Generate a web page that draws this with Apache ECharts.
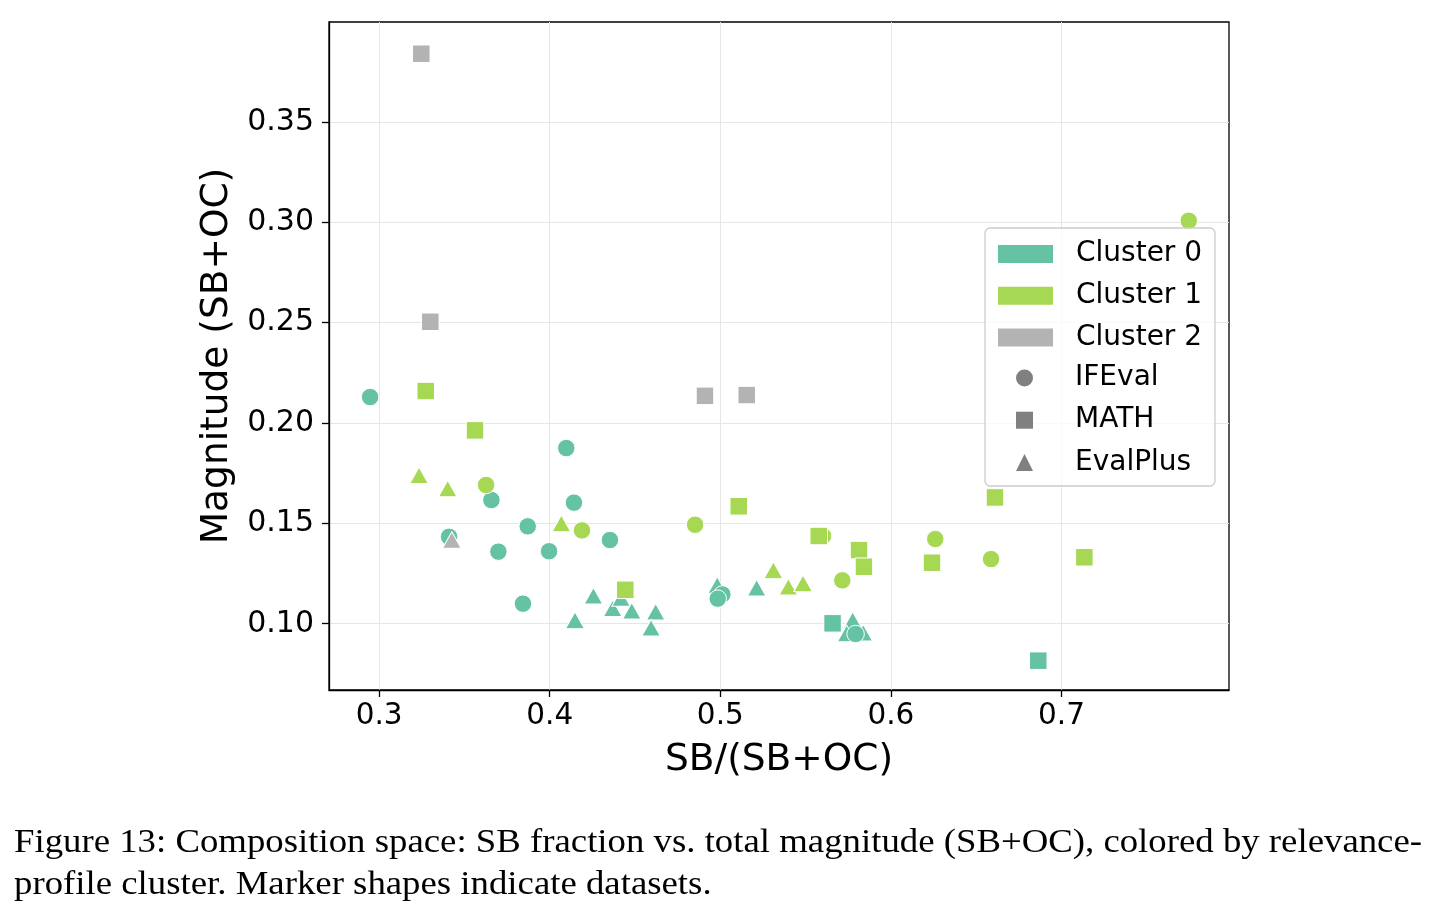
<!DOCTYPE html>
<html>
<head>
<meta charset="utf-8">
<script src="https://cdn.jsdelivr.net/npm/echarts@6/dist/echarts.min.js"></script>
<style>
  html, body { margin: 0; padding: 0; background: #fff; }
  #main { width: 1441px; height: 914px; }
</style>
</head>
<body>
<div id="main"></div>
<script>
// cluster 0 (teal)
var c0IFEval = [[0.2947,0.2129],[0.4097,0.1875],[0.4142,0.1603],[0.3658,0.1616],[0.3410,0.1433],
    [0.3871,0.1485],[0.3699,0.1359],[0.3996,0.1361],[0.4353,0.1417],[0.3843,0.1100],
    [0.5012,0.1146],[0.4985,0.1125],[0.5793,0.0949]];
var c0MATH = [[0.5658,0.1002],[0.6864,0.0816]];
var c0EvalPlus = [[0.4256,0.1139],[0.4148,0.1018],[0.4369,0.1077],[0.4418,0.1128],[0.4481,0.1065],
    [0.4621,0.1060],[0.4594,0.0980],[0.4982,0.1193],[0.5213,0.1179],[0.5776,0.1018],
    [0.5741,0.0952],[0.5838,0.0955]];
// cluster 1 (green)
var c1IFEval = [[0.3627,0.1691],[0.4189,0.1465],[0.4852,0.1493],[0.5602,0.1437],[0.5715,0.1216],
    [0.6260,0.1422],[0.6587,0.1322],[0.7746,0.3007]];
var c1MATH = [[0.3273,0.2159],[0.3562,0.1963],[0.4443,0.1169],[0.5108,0.1585],[0.5577,0.1437],
    [0.5813,0.1367],[0.5842,0.1284],[0.6241,0.1304],[0.6610,0.1629],[0.7134,0.1331]];
var c1EvalPlus = [[0.3234,0.1740],[0.3402,0.1674],[0.4068,0.1500],[0.5311,0.1267],[0.5399,0.1184],
    [0.5485,0.1201]];
// cluster 2 (gray)
var c2MATH = [[0.3247,0.3839],[0.3300,0.2504],[0.4910,0.2135],[0.5155,0.2139]];
var c2EvalPlus = [[0.3426,0.1417]];

var xTicks = [0.3, 0.4, 0.5, 0.6, 0.7];
var yTicks = [0.10, 0.15, 0.20, 0.25, 0.30, 0.35];
var clusterNames = ['Cluster 0', 'Cluster 1', 'Cluster 2'];
var datasetNames = ['IFEval', 'MATH', 'EvalPlus'];

var colors = ['#66c2a5', '#a6d854', '#b3b3b3'];
var shapeColor = '#808080';

var caption1 = 'Figure 13: Composition space: SB fraction vs. total magnitude (SB+OC), colored by relevance-';
var caption2 = 'profile cluster. Marker shapes indicate datasets.';

// stretch caption so line 1 is as wide as the justified latex line
var captionFont = '33px "Liberation Serif"';
var ctx = document.createElement('canvas').getContext('2d');
ctx.font = captionFont;
var capScale = 1408 / ctx.measureText(caption1).width;

function pts(name, data, color, symbol) {
    return {
        name: name,
        type: 'scatter',
        data: data,
        symbol: symbol,
        symbolSize: symbol === 'triangle' ? [18.5, 16.5] : 17.5,
        itemStyle: { color: color, borderColor: '#fff', borderWidth: 1, opacity: 1 },
        emphasis: { disabled: true },
        z: 2
    };
}

function dummy(name, color, symbol) {
    return { name: name, type: 'scatter', data: [], symbol: symbol, itemStyle: { color: color, opacity: 1 } };
}

var myChart = echarts.init(document.getElementById('main'), null, { renderer: 'canvas' });
var option = {
    backgroundColor: '#fff',
    animation: false,
    textStyle: { fontFamily: 'DejaVu Sans' },
    grid: {
        left: 329, right: 212, top: 22, bottom: 224,
        show: true, borderColor: '#000', borderWidth: 1.3, backgroundColor: 'transparent'
    },
    xAxis: {
        type: 'value',
        min: 0.2706, max: 0.7982,
        name: 'SB/(SB+OC)',
        nameLocation: 'middle',
        nameGap: 51,
        nameTextStyle: { fontSize: 37.5, color: '#000', fontFamily: 'DejaVu Sans' },
        axisLine: { show: true, lineStyle: { color: '#000', width: 1.3 } },
        axisTick: { show: true, length: 7, customValues: xTicks, lineStyle: { color: '#000', width: 1.3 } },
        axisLabel: {
            customValues: xTicks, margin: 11, fontSize: 29.5, color: '#000',
            formatter: function (v) { return v.toFixed(1); }
        },
        splitLine: { show: true, lineStyle: { color: '#e6e6e6', width: 1 } }
    },
    yAxis: {
        type: 'value',
        min: 0.0670, max: 0.3997,
        name: 'Magnitude (SB+OC)',
        nameLocation: 'middle',
        nameGap: 88,
        nameTextStyle: { fontSize: 37.5, color: '#000', fontFamily: 'DejaVu Sans' },
        axisLine: { show: true, lineStyle: { color: '#000', width: 1.3 } },
        axisTick: { show: true, length: 7, customValues: yTicks, lineStyle: { color: '#000', width: 1.3 } },
        axisLabel: {
            customValues: yTicks, margin: 15, fontSize: 30, color: '#000',
            formatter: function (v) { return v.toFixed(2); }
        },
        splitLine: { show: true, lineStyle: { color: '#e6e6e6', width: 1 } }
    },
    legend: [
        {
            orient: 'vertical', left: 991, top: 235,
            itemWidth: 57, itemHeight: 20, itemGap: 13.8,
            selectedMode: false,
            data: clusterNames.map(function (n) { return { name: n, icon: 'rect' }; }),
            textStyle: { fontSize: 28, color: '#000', padding: [0, 0, 0, 17] }
        },
        {
            orient: 'vertical', left: 1011, top: 359,
            itemWidth: 17, itemHeight: 17, itemGap: 14.2,
            selectedMode: false,
            data: [
                { name: datasetNames[0], icon: 'circle', itemStyle: { opacity: 1 } },
                { name: datasetNames[1], icon: 'rect', itemStyle: { opacity: 1 } },
                { name: datasetNames[2], icon: 'triangle', itemStyle: { opacity: 1 } }
            ],
            textStyle: { fontSize: 28, color: '#000', padding: [0, 0, 0, 37] }
        }
    ],
    graphic: [
        {
            type: 'rect', z: 3, silent: true,
            shape: { x: 985, y: 228, width: 230, height: 258, r: 5 },
            style: { fill: 'rgba(255,255,255,0.8)', stroke: '#cccccc', lineWidth: 1.3 }
        },
        {
            type: 'text', left: 14, top: 827, z: 5, scaleX: capScale,
            style: { text: caption1, font: captionFont, fill: '#000' }
        },
        {
            type: 'text', left: 14, top: 869, z: 5, scaleX: capScale,
            style: { text: caption2, font: captionFont, fill: '#000' }
        }
    ],
    series: [
        pts('Cluster 0', c0EvalPlus, colors[0], 'triangle'),
        pts('Cluster 0', c0IFEval, colors[0], 'circle'),
        pts('Cluster 0', c0MATH, colors[0], 'rect'),
        pts('Cluster 1', c1IFEval, colors[1], 'circle'),
        pts('Cluster 1', c1MATH, colors[1], 'rect'),
        pts('Cluster 1', c1EvalPlus, colors[1], 'triangle'),
        pts('Cluster 2', c2MATH, colors[2], 'rect'),
        pts('Cluster 2', c2EvalPlus, colors[2], 'triangle'),
        dummy(datasetNames[0], shapeColor, 'circle'),
        dummy(datasetNames[1], shapeColor, 'rect'),
        dummy(datasetNames[2], shapeColor, 'triangle')
    ]
};
myChart.setOption(option);
</script>
</body>
</html>
